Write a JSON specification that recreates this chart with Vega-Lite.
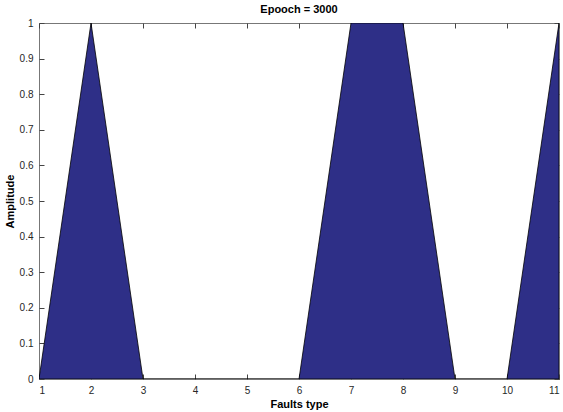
{
  "$schema": "https://vega.github.io/schema/vega-lite/v6.json",
  "width": 520,
  "height": 356,
  "autosize": "none",
  "padding": {"left": 39, "top": 23, "right": 4, "bottom": 33},
  "background": "white",
  "title": {"text": "Epooch = 3000", "font": "Liberation Sans", "fontSize": 11, "fontWeight": "bold", "color": "#000000", "offset": 3},
  "config": {
    "view": {"stroke": "#777777", "strokeWidth": 1},
    "axis": {"grid": false, "domain": false, "labelFont": "Liberation Sans", "labelFontSize": 10, "labelColor": "#262626", "titleFont": "Liberation Sans", "titleFontSize": 11, "titleFontWeight": "bold", "titleColor": "#000000", "tickColor": "#444444"}
  },
  "data": {"values": [
    {"x": 1, "y": 0}, {"x": 2, "y": 1}, {"x": 3, "y": 0}, {"x": 4, "y": 0},
    {"x": 5, "y": 0}, {"x": 6, "y": 0}, {"x": 7, "y": 1}, {"x": 8, "y": 1},
    {"x": 9, "y": 0}, {"x": 10, "y": 0}, {"x": 11, "y": 1}
  ]},
  "resolve": {"axis": {"x": "independent", "y": "independent"}},
  "layer": [
    {
      "mark": {"type": "area", "color": "#2E2F87", "stroke": "#000000", "strokeWidth": 0.8, "clip": true},
      "encoding": {
        "x": {"field": "x", "type": "quantitative", "scale": {"domain": [1, 11], "nice": false, "zero": false},
          "axis": {"title": "Faults type", "values": [1,2,3,4,5,6,7,8,9,10,11], "tickSize": -5, "labelPadding": 11, "titlePadding": 3, "orient": "bottom"}},
        "y": {"field": "y", "type": "quantitative", "scale": {"domain": [0, 1], "nice": false},
          "axis": {"title": "Amplitude", "values": [0,0.1,0.2,0.3,0.4,0.5,0.6,0.7,0.8,0.9,1], "format": "~g", "tickSize": -5, "labelPadding": 11, "titlePadding": 4, "orient": "left"}}
      }
    },
    {
      "mark": {"type": "point", "opacity": 0},
      "encoding": {
        "x": {"field": "x", "type": "quantitative", "axis": {"orient": "top", "title": null, "labels": false, "values": [1,2,3,4,5,6,7,8,9,10,11], "tickSize": -5}},
        "y": {"field": "y", "type": "quantitative", "axis": {"orient": "right", "title": null, "labels": false, "values": [0,0.1,0.2,0.3,0.4,0.5,0.6,0.7,0.8,0.9,1], "tickSize": -5}}
      }
    }
  ]
}
